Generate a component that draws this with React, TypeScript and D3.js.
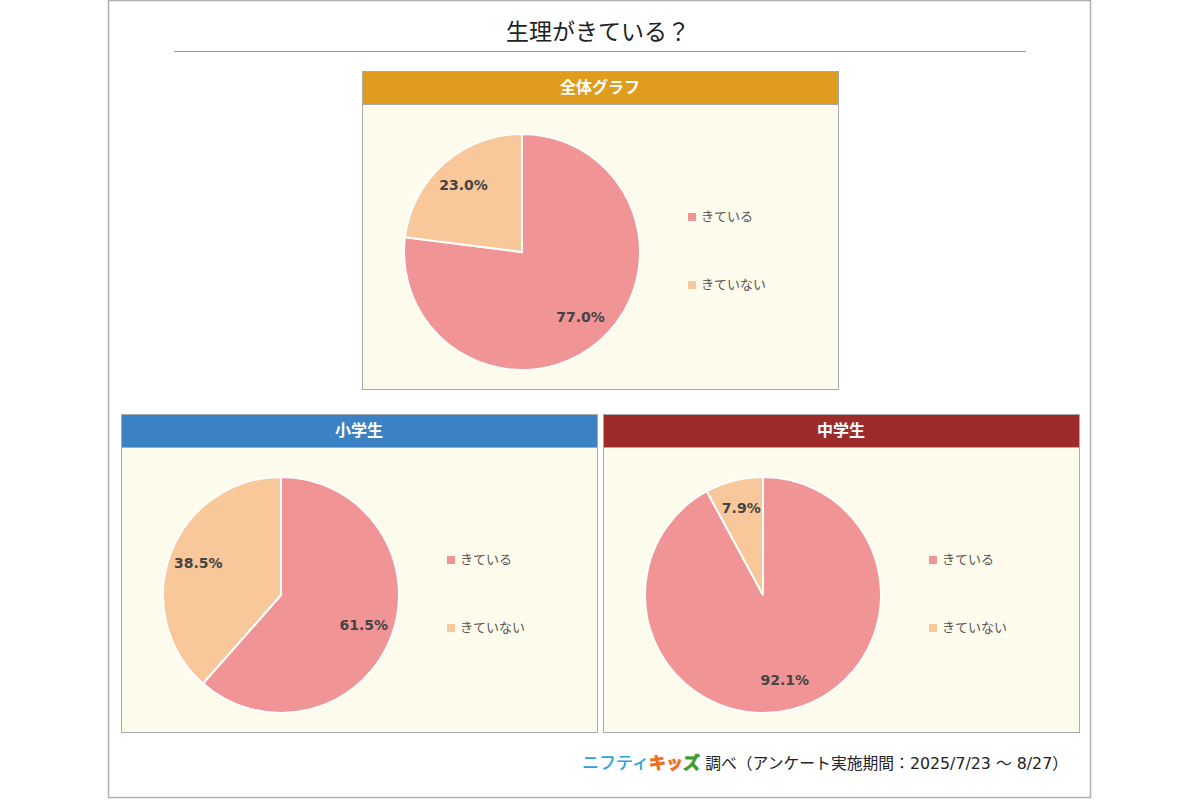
import * as d3 from 'd3';

// answer categories and per-panel shares (%)
const categories = ['きている', 'きていない'];
const panelTitles = ['全体グラフ', '小学生', '中学生'];
const overallValues = [77.0, 23.0];
const elementaryValues = [61.5, 38.5];
const juniorHighValues = [92.1, 7.9];

const chartTitle = '生理がきている？';
const footerNote = '調べ（アンケート実施期間：2025/7/23 ～ 8/27）';

const sliceColors = ['#f09496', '#f8c79a'];
const headerColors = ['#e09c1e', '#3a82c4', '#9d2b2b'];
const FONT = '"DejaVu Sans", Verdana, "Noto Sans CJK JP", sans-serif';

const PANEL_W = 476;
const PANEL_H = 318;
const HEADER_H = 33;
const RADIUS = 118;

function PiePanel({ x, y, title, headerColor, values }: {
  x: number; y: number; title: string; headerColor: string; values: number[];
}) {
  const pie = d3.pie<number>().sort(null).value((d) => d);
  const arcs = pie(values);
  const arc = d3.arc<d3.PieArcDatum<number>>().innerRadius(0).outerRadius(RADIUS);
  const labelArc = d3.arc<d3.PieArcDatum<number>>().innerRadius(RADIUS * 0.75).outerRadius(RADIUS * 0.75);
  const cx = 160;
  const cy = 181;
  const legendY = d3.scalePoint<string>().domain(categories).range([cy - 35, cy + 33]);

  return (
    <g transform={`translate(${x},${y})`}>
      <rect x={0.5} y={0.5} width={PANEL_W} height={PANEL_H} fill="#fdfbec" stroke="#aaa" />
      <rect x={0.5} y={0.5} width={PANEL_W} height={HEADER_H} fill={headerColor} stroke="#aaa" />
      <text x={PANEL_W / 2} y={HEADER_H / 2 + 1} textAnchor="middle" dominantBaseline="middle"
        fill="#fff" fontSize={16} fontWeight={700} fontFamily={FONT}>{title}</text>
      <g transform={`translate(${cx},${cy})`}>
        {arcs.map((a, i) => (
          <path key={i} d={arc(a)!} fill={sliceColors[i]} stroke="#fff" strokeWidth={2} />
        ))}
        {arcs.map((a, i) => {
          const [lx, ly] = labelArc.centroid(a);
          return (
            <text key={i} x={lx} y={ly} textAnchor="middle" dominantBaseline="middle"
              fill="#444" fontSize={14} fontWeight={700} fontFamily={FONT}>
              {d3.format('.1f')(a.data)}%
            </text>
          );
        })}
      </g>
      {categories.map((c, i) => (
        <g key={c} transform={`translate(326,${legendY(c)})`}>
          <rect x={0} y={-4} width={8} height={8} fill={sliceColors[i]} />
          <text x={13} y={0} dominantBaseline="middle" fill="#555" fontSize={13} fontFamily={FONT}>{c}</text>
        </g>
      ))}
    </g>
  );
}

export default function App() {
  return (
    <svg width={1200} height={800} style={{ position: 'absolute', left: 0, top: 0, background: '#fff' }}>
      <rect x={108.5} y={0.5} width={982} height={797} fill="#fff" stroke="#b0b0b0" strokeWidth={1.5} />
      <text x={598} y={33} textAnchor="middle" dominantBaseline="middle" fill="#222" fontSize={23}
        fontFamily={FONT}>{chartTitle}</text>
      <line x1={174} x2={1026} y1={51.5} y2={51.5} stroke="#999" strokeWidth={1.2} />

      <PiePanel x={362} y={71} title={panelTitles[0]} headerColor={headerColors[0]} values={overallValues} />
      <PiePanel x={121} y={414} title={panelTitles[1]} headerColor={headerColors[1]} values={elementaryValues} />
      <PiePanel x={603} y={414} title={panelTitles[2]} headerColor={headerColors[2]} values={juniorHighValues} />

      <text x={700} y={764} textAnchor="end" dominantBaseline="middle" fontSize={17} fontWeight={700}
        fontFamily={FONT}>
        <tspan fill="#2ba4e2" fontWeight={500}>ニフティ</tspan>
        <tspan fill="#f26d1d" stroke="#f26d1d" strokeWidth={0.8}>キッ</tspan>
        <tspan fill="#3d9c2e" stroke="#3d9c2e" strokeWidth={0.8}>ズ</tspan>
      </text>
      <text x={1068} y={764} textAnchor="end" dominantBaseline="middle" fill="#222" fontSize={15.8}
        fontFamily={FONT}>{footerNote}</text>
    </svg>
  );
}
